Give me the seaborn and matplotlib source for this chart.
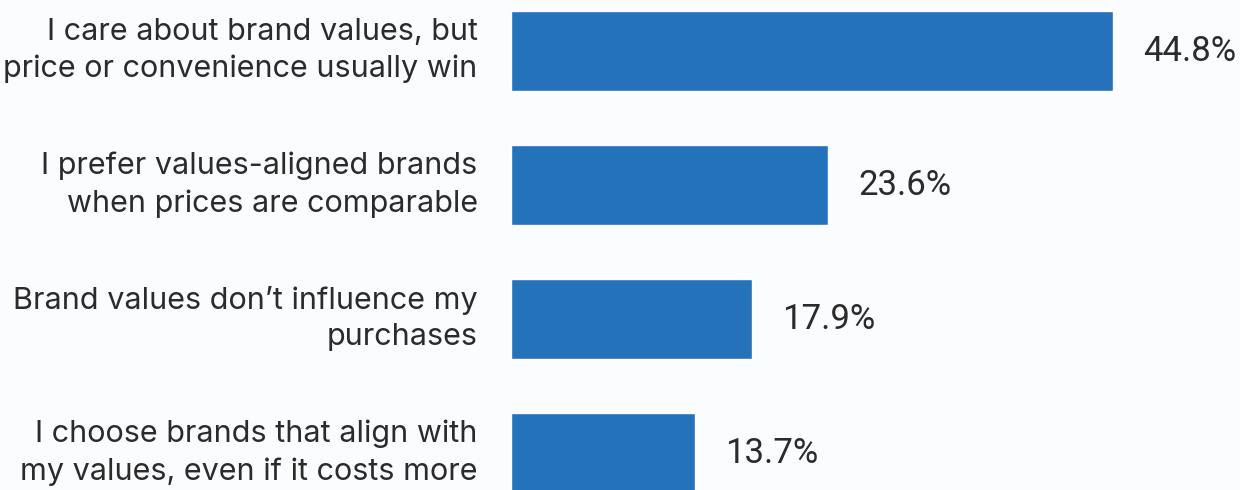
import matplotlib
matplotlib.use("Agg")
import matplotlib.pyplot as plt
import matplotlib.transforms as mtransforms
import seaborn as sns
import pandas as pd

categories = [
    "I care about brand values, but\nprice or convenience usually win",
    "I prefer values-aligned brands\nwhen prices are comparable",
    "Brand values don\u2019t influence my\npurchases",
    "I choose brands that align with\nmy values, even if it costs more",
]
shares = [44.8, 23.6, 17.9, 13.7]
value_labels = ["44.8%", "23.6%", "17.9%", "13.7%"]

BG = "#FBFCFE"
BAR = "#2372BA"
TEXT = "#2B2B2B"

sns.set_theme(style="white")
plt.rcParams["font.family"] = ["Inter", "DejaVu Sans"]

df = pd.DataFrame({"answer": categories, "share": shares})

fig = plt.figure(figsize=(12.4, 4.9), dpi=100, facecolor=BG)
ax = fig.add_axes([511 / 1240, 0, 729 / 1240, 1], facecolor=BG)

sns.barplot(data=df, y="answer", x="share", orient="h", color=BAR,
            saturation=1, width=0.6, ax=ax)

ax.set_xlim(0, 729 / 13.44)
ax.set_ylim(3.276, -0.381)

for i, (v, lab) in enumerate(zip(shares, value_labels)):
    ax.text(v + 30 / 13.44, i, lab, va="center", ha="left",
            fontsize=25, color=TEXT, family=["Roboto", "DejaVu Sans"])

ax.set_xlabel("")
ax.set_ylabel("")
ax.set_xticks([])
ax.set_yticks(range(len(categories)))
ax.set_yticklabels(categories, fontsize=22, color=TEXT, linespacing=1.4)
ax.tick_params(axis="y", length=0, pad=24)

# nudge the two-line category labels up so they sit level with the bars
shift = mtransforms.ScaledTranslation(0, 0.08, fig.dpi_scale_trans)
for t in ax.get_yticklabels():
    t.set_transform(t.get_transform() + shift)

for s in ax.spines.values():
    s.set_visible(False)

fig.savefig("out.png", dpi=100, facecolor=BG)
